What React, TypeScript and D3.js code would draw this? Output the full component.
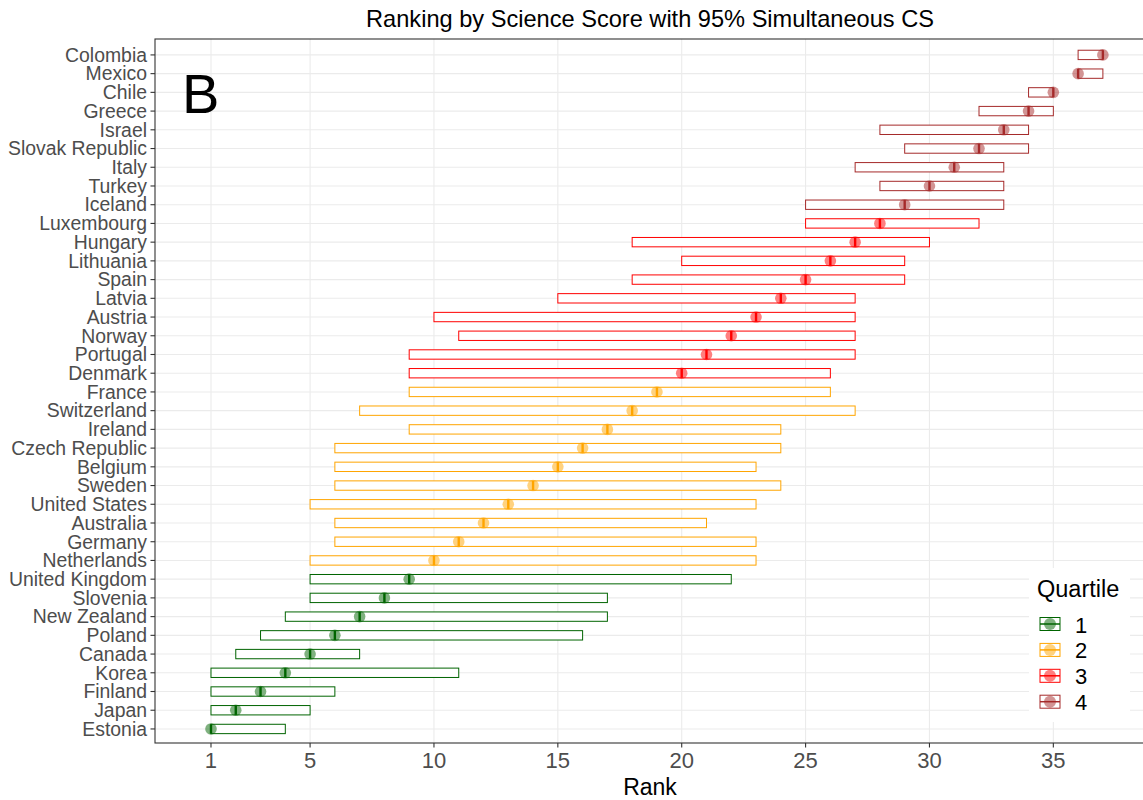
import * as React from 'react';
import * as d3 from 'd3';

// countries in rank order (1 = best)
const COUNTRIES = [
    'Estonia', 'Japan', 'Finland', 'Korea', 'Canada', 'Poland', 'New Zealand', 'Slovenia',
    'United Kingdom', 'Netherlands', 'Germany', 'Australia', 'United States', 'Sweden',
    'Belgium', 'Czech Republic', 'Ireland', 'Switzerland', 'France', 'Denmark', 'Portugal',
    'Norway', 'Austria', 'Latvia', 'Spain', 'Lithuania', 'Hungary', 'Luxembourg', 'Iceland',
    'Turkey', 'Italy', 'Slovak Republic', 'Israel', 'Greece', 'Chile', 'Mexico', 'Colombia'
];
const RANKS = [
    1, 2, 3, 4, 5, 6, 7, 8, 9, 10, 11, 12, 13, 14, 15, 16, 17, 18, 19, 20, 21, 22, 23, 24, 25,
    26, 27, 28, 29, 30, 31, 32, 33, 34, 35, 36, 37
];
const LOWER = [
    1, 1, 1, 1, 2, 3, 4, 5, 5, 5, 6, 6, 5, 6, 6, 6, 9, 7, 9, 9, 9, 11, 10, 15, 18, 20, 18, 25,
    25, 28, 27, 29, 28, 32, 34, 36, 36
];
const UPPER = [
    4, 5, 6, 11, 7, 16, 17, 17, 22, 23, 23, 21, 23, 24, 23, 24, 24, 27, 26, 26, 27, 27, 27, 27,
    29, 29, 30, 32, 33, 33, 33, 34, 34, 35, 35, 37, 37
];
const QUARTILE = [
    1, 1, 1, 1, 1, 1, 1, 1, 1, 2, 2, 2, 2, 2, 2, 2, 2, 2, 2, 3, 3, 3, 3, 3, 3, 3, 3, 3, 4, 4,
    4, 4, 4, 4, 4, 4, 4
];
const X_TICKS = [1, 5, 10, 15, 20, 25, 30, 35];
const QUARTILES = [1, 2, 3, 4];
const COLORS = ['#006400', '#FFA500', '#FF0000', '#A52A2A'];

const FONT = '"Liberation Sans", Arial, Helvetica, sans-serif';

interface Row {
    country: string;
    rank: number;
    lo: number;
    hi: number;
    q: number;
}

const DATA: Row[] = COUNTRIES.map((c, i) => ({
    country: c,
    rank: RANKS[i],
    lo: LOWER[i],
    hi: UPPER[i],
    q: QUARTILE[i]
}));

export default function App() {
    const WIDTH = 1143;
    const HEIGHT = 800;
    const PANEL = { left: 155, right: 1145, top: 39, bottom: 743 };

    const xScale = d3.scaleLinear().domain([-1.26, 38.7]).range([PANEL.left, PANEL.right]);
    const yScale = d3.scaleLinear().domain([37.85, 0.25]).range([PANEL.top, PANEL.bottom]);
    const color = d3.scaleOrdinal<number, string>().domain(QUARTILES).range(COLORS);

    const step = Math.abs(yScale(1) - yScale(2));
    const boxH = step * 0.5;
    const RADIUS = 5.8;

    return (
        <svg
            width={WIDTH}
            height={HEIGHT}
            style={{ position: 'absolute', left: 0, top: 0, background: '#fff' }}
            fontFamily={FONT}
        >
            <defs>
                <clipPath id="panel">
                    <rect x={PANEL.left} y={PANEL.top} width={PANEL.right - PANEL.left} height={PANEL.bottom - PANEL.top} />
                </clipPath>
            </defs>
            <rect x={0} y={0} width={WIDTH} height={HEIGHT} fill="#fff" />

            {/* grid */}
            <g stroke="#EBEBEB" strokeWidth={1.1}>
                {X_TICKS.map((t) => (
                    <line key={`vx${t}`} x1={xScale(t)} x2={xScale(t)} y1={PANEL.top} y2={PANEL.bottom} />
                ))}
                {DATA.map((d) => (
                    <line key={`hy${d.country}`} x1={PANEL.left} x2={PANEL.right} y1={yScale(d.rank)} y2={yScale(d.rank)} />
                ))}
            </g>

            {/* crossbars */}
            <g clipPath="url(#panel)">
                {DATA.map((d) => (
                    <g key={d.country}>
                        <rect
                            x={xScale(d.lo)}
                            y={yScale(d.rank) - boxH / 2}
                            width={xScale(d.hi) - xScale(d.lo)}
                            height={boxH}
                            fill="#fff"
                            stroke={color(d.q)}
                            strokeWidth={1}
                        />
                        <line
                            x1={xScale(d.rank)}
                            x2={xScale(d.rank)}
                            y1={yScale(d.rank) - boxH / 2}
                            y2={yScale(d.rank) + boxH / 2}
                            stroke={color(d.q)}
                            strokeWidth={2.4}
                        />
                    </g>
                ))}
                {DATA.map((d) => (
                    <circle
                        key={`p${d.country}`}
                        cx={xScale(d.rank)}
                        cy={yScale(d.rank)}
                        r={RADIUS}
                        fill={color(d.q)}
                        fillOpacity={0.5}
                    />
                ))}
            </g>

            {/* panel border */}
            <rect
                x={PANEL.left}
                y={PANEL.top}
                width={PANEL.right - PANEL.left}
                height={PANEL.bottom - PANEL.top}
                fill="none"
                stroke="#333"
                strokeWidth={1.1}
            />

            {/* panel tag */}
            <text x={182} y={113} fontSize={56} fill="#000">
                B
            </text>

            {/* y axis */}
            <g>
                {DATA.map((d) => (
                    <g key={`yt${d.country}`} transform={`translate(0,${yScale(d.rank)})`}>
                        <line x1={PANEL.left - 4.5} x2={PANEL.left} stroke="#333" strokeWidth={1.1} />
                        <text x={PANEL.left - 8} dy="0.35em" textAnchor="end" fontSize={19.4} fill="#4D4D4D">
                            {d.country}
                        </text>
                    </g>
                ))}
            </g>

            {/* x axis */}
            <g>
                {X_TICKS.map((t) => (
                    <g key={`xt${t}`} transform={`translate(${xScale(t)},${PANEL.bottom})`}>
                        <line y1={0} y2={4.5} stroke="#333" strokeWidth={1.1} />
                        <text y={25} textAnchor="middle" fontSize={22} fill="#4D4D4D">
                            {t}
                        </text>
                    </g>
                ))}
                <text x={(PANEL.left + PANEL.right) / 2} y={795} textAnchor="middle" fontSize={23} fill="#000">
                    Rank
                </text>
            </g>

            {/* title */}
            <text x={(PANEL.left + PANEL.right) / 2} y={27} textAnchor="middle" fontSize={23.6} fill="#000">
                Ranking by Science Score with 95% Simultaneous CS
            </text>

            {/* legend */}
            <g>
                <rect x={1029} y={568} width={101} height={154} fill="#fff" />
                <text x={1037} y={597} fontSize={23.5} fill="#000">
                    Quartile
                </text>
                {QUARTILES.map((q, i) => {
                    const cy = 624 + i * 25.9;
                    return (
                        <g key={`lg${q}`}>
                            <rect x={1040} y={cy - 6.5} width={20} height={13} fill="#fff" stroke={color(q)} strokeWidth={1} />
                            <line x1={1040} x2={1060} y1={cy} y2={cy} stroke={color(q)} strokeWidth={1.5} />
                            <circle cx={1050} cy={cy} r={6} fill={color(q)} fillOpacity={0.5} />
                            <text x={1075} y={cy + 8.5} fontSize={22} fill="#000">
                                {q}
                            </text>
                        </g>
                    );
                })}
            </g>
        </svg>
    );
}
